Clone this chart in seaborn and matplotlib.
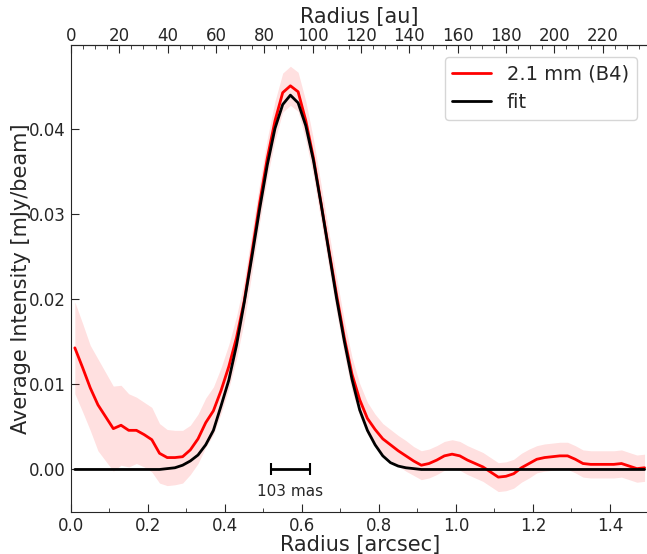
import numpy as np
import pandas as pd
import seaborn as sns
import matplotlib
matplotlib.use("Agg")
import matplotlib.pyplot as plt
from matplotlib.ticker import MultipleLocator

# radial profile, sampled every 0.02 arcsec
radius = np.round(np.arange(0.01, 1.50, 0.02), 2)

intensity = [
    0.0143, 0.0120, 0.0096, 0.0076, 0.0062, 0.0048, 0.0052, 0.0046, 0.0046, 0.0041,
    0.0035, 0.0019, 0.0014, 0.0014, 0.0015, 0.0023, 0.0036, 0.0055, 0.0069, 0.0093,
    0.0121, 0.0155, 0.0198, 0.0255, 0.0313, 0.0366, 0.0410, 0.0443, 0.0451, 0.0444,
    0.0410, 0.0366, 0.0312, 0.0258, 0.0205, 0.0155, 0.0112, 0.0082, 0.0060, 0.0047,
    0.0036, 0.0029, 0.0022, 0.0016, 0.0010, 0.0005, 0.0007, 0.0011, 0.0016, 0.0018,
    0.0016, 0.0011, 0.0007, 0.0003, -0.0003, -0.0009, -0.0008, -0.0005, 0.0002, 0.0007,
    0.0012, 0.0014, 0.0015, 0.0016, 0.0016, 0.0012, 0.0007, 0.0006, 0.0006, 0.0006,
    0.0006, 0.0007, 0.0004, 0.0001, 0.0002,
]

error = [
    0.0054, 0.0052, 0.0050, 0.0054, 0.0052, 0.0050, 0.0047, 0.0043, 0.0039, 0.0038,
    0.0038, 0.0035, 0.0033, 0.0032, 0.0031, 0.0029, 0.0029, 0.0029, 0.0028, 0.0027,
    0.0026, 0.0025, 0.0024, 0.0024, 0.0023, 0.0023, 0.0023, 0.0023, 0.0023, 0.0023,
    0.0023, 0.0022, 0.0022, 0.0021, 0.0021, 0.0020, 0.0020, 0.0019, 0.0019, 0.0018,
    0.0018, 0.0018, 0.0018, 0.0018, 0.0017, 0.0017, 0.0017, 0.0017, 0.0017, 0.0017,
    0.0017, 0.0017, 0.0017, 0.0017, 0.0017, 0.0017, 0.0017, 0.0017, 0.0017, 0.0017,
    0.0016, 0.0016, 0.0016, 0.0016, 0.0016, 0.0016, 0.0016, 0.0016, 0.0016, 0.0016,
    0.0016, 0.0016, 0.0016, 0.0016, 0.0016,
]

fit = [
    0.0, 0.0, 0.0, 0.0, 0.0, 0.0, 0.0, 0.0, 0.0, 0.0,
    0.0, 0.0, 0.0001, 0.0002, 0.0005, 0.0010, 0.0017, 0.0029, 0.0046, 0.0075,
    0.0105, 0.0146, 0.0196, 0.0250, 0.0306, 0.0358, 0.0401, 0.0429, 0.0440, 0.0431,
    0.0404, 0.0363, 0.0311, 0.0256, 0.0201, 0.0151, 0.0106, 0.0070, 0.0046, 0.0029,
    0.0016, 0.0008, 0.0004, 0.0002, 0.0001, 0.0, 0.0, 0.0, 0.0, 0.0,
    0.0, 0.0, 0.0, 0.0, 0.0, 0.0, 0.0, 0.0, 0.0, 0.0,
    0.0, 0.0, 0.0, 0.0, 0.0, 0.0, 0.0, 0.0, 0.0, 0.0,
    0.0, 0.0, 0.0, 0.0, 0.0,
]

au_ticks = [0, 20, 40, 60, 80, 100, 120, 140, 160, 180, 200, 220]

beam_mas = 103
beam_center = 0.57
au_per_arcsec = 159.3

df = pd.DataFrame({"r": radius, "I": intensity, "err": error, "fit": fit})

sns.set_style("ticks")
plt.rcParams["font.family"] = ["DejaVu Sans"]

fig = plt.figure(figsize=(6.47, 5.54), dpi=100)
ax = fig.add_axes([0.1097, 0.0758, 0.8925, 0.843])

ax.fill_between(df["r"], df["I"] - df["err"], df["I"] + df["err"],
                color="red", alpha=0.12, linewidth=0)
sns.lineplot(data=df, x="r", y="I", color="red", lw=2, label="2.1 mm (B4)", ax=ax)
sns.lineplot(data=df, x="r", y="fit", color="black", lw=2, label="fit", ax=ax)

# beam scale bar
half = beam_mas / 1000 / 2
ax.errorbar([beam_center], [0.0], xerr=[half], color="black", lw=2,
            capsize=4, capthick=1.5)
ax.text(beam_center, -0.0017, f"{beam_mas} mas", ha="center", va="top", fontsize=11)

ax.set_xlim(0, 1.5)
ax.set_ylim(-0.005, 0.0499)
ax.set_xlabel("Radius [arcsec]", fontsize=15, labelpad=0)
ax.set_ylabel("Average Intensity [mJy/beam]", fontsize=15, labelpad=-1)
ax.xaxis.set_major_locator(MultipleLocator(0.2))
ax.xaxis.set_minor_locator(MultipleLocator(0.1))
ax.yaxis.set_major_locator(MultipleLocator(0.01))
ax.tick_params(which="both", direction="in", labelsize=12)
ax.tick_params(which="major", length=6)
ax.tick_params(which="minor", length=3)

top = ax.secondary_xaxis("top", functions=(lambda x: x * au_per_arcsec,
                                           lambda x: x / au_per_arcsec))
top.set_xlabel("Radius [au]", fontsize=15, labelpad=3)
top.set_xticks(au_ticks)
top.xaxis.set_minor_locator(MultipleLocator(5))
top.tick_params(which="both", direction="in", labelsize=12, pad=0)
top.tick_params(which="major", length=6)
top.tick_params(which="minor", length=3)

ax.legend(loc="upper right", fontsize=14, frameon=True, handlelength=2,
          borderaxespad=0.6)

fig.savefig("out.png", dpi=100)
